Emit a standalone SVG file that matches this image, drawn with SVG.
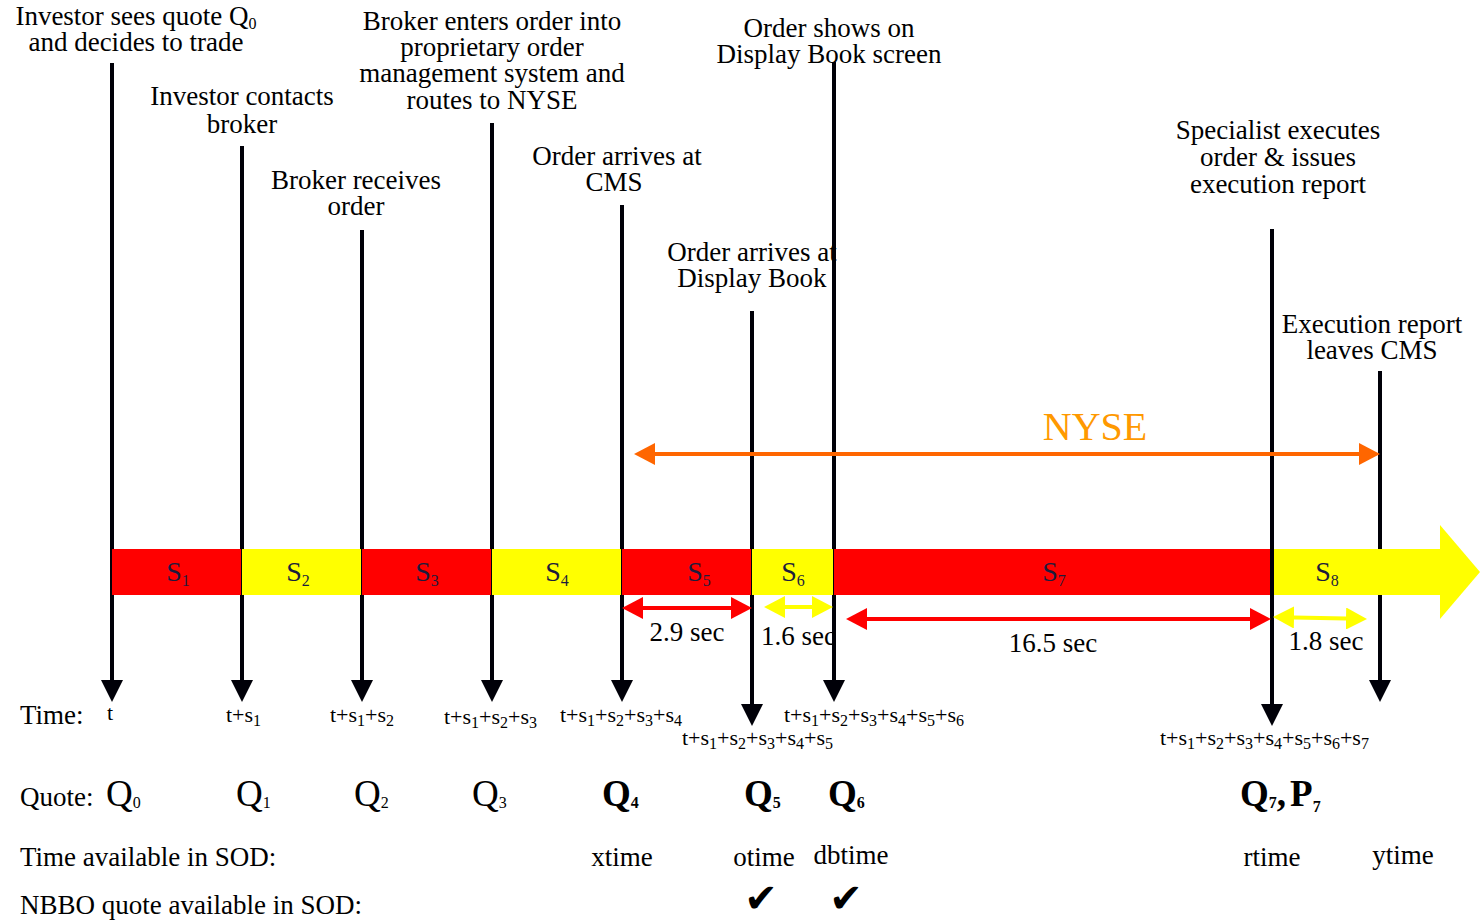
<svg xmlns="http://www.w3.org/2000/svg" width="1480" height="924" viewBox="0 0 1480 924">
<style>
  text { font-family: "Liberation Serif", "Times New Roman", serif; fill: #000; }
  .lbl { font-size: 27px; text-anchor: middle; }
  .seg { font-size: 28px; text-anchor: middle; fill: #1c1c3c; }
  .segsub { font-size: 16px; }
  .tm { font-size: 22px; }
  .sub { font-size: 16px; }
  .row { font-size: 27px; }
  .q { font-size: 37px; }
  .qb { font-size: 37px; font-weight: bold; }
  .qs { font-size: 16px; }
  .dur { font-size: 27px; }
  .chk { font-family: "DejaVu Sans", sans-serif; font-size: 40px; text-anchor: middle; }
  .vline { stroke: #000008; stroke-width: 4; fill: none; marker-end: url(#ah); }
  .red { fill: #ff0000; }
  .yel { fill: #ffff00; }
</style>
<defs>
  <marker id="ah" viewBox="0 0 22 22" refX="0" refY="11" markerWidth="22" markerHeight="22" markerUnits="userSpaceOnUse" orient="auto">
    <path d="M0,0 L22,11 L0,22 Z" fill="#000008"/>
  </marker>
  <marker id="ahr" viewBox="0 0 21 22" refX="0" refY="11" markerWidth="21" markerHeight="22" markerUnits="userSpaceOnUse" orient="auto-start-reverse">
    <path d="M0,0 L21,11 L0,22 Z" fill="#ff0000"/>
  </marker>
  <marker id="ahy" viewBox="0 0 21 22" refX="0" refY="11" markerWidth="21" markerHeight="22" markerUnits="userSpaceOnUse" orient="auto-start-reverse">
    <path d="M0,0 L21,11 L0,22 Z" fill="#ffff00"/>
  </marker>
  <marker id="aho" viewBox="0 0 21 22" refX="0" refY="11" markerWidth="21" markerHeight="22" markerUnits="userSpaceOnUse" orient="auto-start-reverse">
    <path d="M0,0 L21,11 L0,22 Z" fill="#ff6600"/>
  </marker>
</defs>
<rect width="1480" height="924" fill="#ffffff"/>

<!-- Event labels -->
<g id="ev1"><text class="lbl" x="136" y="25">Investor sees quote Q<tspan class="sub" dy="4">0</tspan></text><text class="lbl" x="136" y="51">and decides to trade</text></g>
<g id="ev2"><text class="lbl" x="242" y="105">Investor contacts</text><text class="lbl" x="242" y="133">broker</text></g>
<g id="ev3"><text class="lbl" x="356" y="189">Broker receives</text><text class="lbl" x="356" y="215">order</text></g>
<g id="ev4"><text class="lbl" x="492" y="30">Broker enters order into</text><text class="lbl" x="492" y="56">proprietary order</text><text class="lbl" x="492" y="82">management system and</text><text class="lbl" x="492" y="109">routes to NYSE</text></g>
<g id="ev5"><text class="lbl" x="617" y="165">Order arrives at</text><text class="lbl" x="614" y="191">CMS</text></g>
<g id="ev6"><text class="lbl" x="752" y="261">Order arrives at</text><text class="lbl" x="752" y="287">Display Book</text></g>
<g id="ev7"><text class="lbl" x="829" y="37">Order shows on</text><text class="lbl" x="829" y="63">Display Book screen</text></g>
<g id="ev8"><text class="lbl" x="1278" y="139">Specialist executes</text><text class="lbl" x="1278" y="166">order &amp; issues</text><text class="lbl" x="1278" y="193">execution report</text></g>
<g id="ev9"><text class="lbl" x="1372" y="333">Execution report</text><text class="lbl" x="1372" y="359">leaves CMS</text></g>

<!-- Connectors -->
<g id="connectors">
  <line class="vline" x1="112" y1="63" x2="112" y2="680"/>
  <line class="vline" x1="242" y1="146" x2="242" y2="680"/>
  <line class="vline" x1="362" y1="230" x2="362" y2="680"/>
  <line class="vline" x1="492" y1="123" x2="492" y2="680"/>
  <line class="vline" x1="622" y1="205" x2="622" y2="680"/>
  <line class="vline" x1="752" y1="311" x2="752" y2="704"/>
  <line class="vline" x1="834" y1="62" x2="834" y2="680"/>
  <line class="vline" x1="1272" y1="229" x2="1272" y2="704"/>
  <line class="vline" x1="1380" y1="371" x2="1380" y2="680"/>
  <line x1="655" y1="454" x2="1359" y2="454" stroke="#ff6600" stroke-width="4" marker-start="url(#aho)" marker-end="url(#aho)"/>
</g>

<!-- NYSE label -->
<g id="nyse"><text x="1095" y="440" font-size="40" text-anchor="middle" style="fill:#ff9900">NYSE</text></g>

<!-- Segment bar -->
<g id="bar">
  <rect class="red" x="112" y="549" width="129" height="46"/>
  <rect class="yel" x="242" y="549" width="119" height="46"/>
  <rect class="red" x="362" y="549" width="129" height="46"/>
  <rect class="yel" x="492" y="549" width="129" height="46"/>
  <rect class="red" x="622" y="549" width="129" height="46"/>
  <rect class="yel" x="752" y="549" width="81" height="46"/>
  <rect class="red" x="834" y="549" width="438" height="46"/>
  <rect class="yel" x="1272" y="549" width="170" height="46"/>
  <polygon class="yel" points="1440,525 1480,572 1440,619"/>
  <line x1="1272" y1="549" x2="1272" y2="595" stroke="#000008" stroke-width="4"/>
  <text class="seg" x="178" y="581">S<tspan class="segsub" dy="5">1</tspan></text>
  <text class="seg" x="298" y="581">S<tspan class="segsub" dy="5">2</tspan></text>
  <text class="seg" x="427" y="581">S<tspan class="segsub" dy="5">3</tspan></text>
  <text class="seg" x="557" y="581">S<tspan class="segsub" dy="5">4</tspan></text>
  <text class="seg" x="699" y="581">S<tspan class="segsub" dy="5">5</tspan></text>
  <text class="seg" x="793" y="581">S<tspan class="segsub" dy="5">6</tspan></text>
  <text class="seg" x="1054" y="581">S<tspan class="segsub" dy="5">7</tspan></text>
  <text class="seg" x="1327" y="581">S<tspan class="segsub" dy="5">8</tspan></text>
</g>

<!-- Durations -->
<g id="durations">
  <line x1="643" y1="608" x2="731" y2="608" stroke="#ff0000" stroke-width="4" marker-start="url(#ahr)" marker-end="url(#ahr)"/>
  <text class="dur" x="687" y="641" text-anchor="middle">2.9 sec</text>
  <line x1="785" y1="607" x2="812" y2="607" stroke="#ffff00" stroke-width="4" marker-start="url(#ahy)" marker-end="url(#ahy)"/>
  <text class="dur" x="761" y="645">1.6 sec</text>
  <line x1="867" y1="619" x2="1250" y2="619" stroke="#ff0000" stroke-width="4" marker-start="url(#ahr)" marker-end="url(#ahr)"/>
  <text class="dur" x="1053" y="652" text-anchor="middle">16.5 sec</text>
  <line x1="1294" y1="617.5" x2="1346" y2="618.5" stroke="#ffff00" stroke-width="4" marker-start="url(#ahy)" marker-end="url(#ahy)"/>
  <text class="dur" x="1326" y="650" text-anchor="middle">1.8 sec</text>
</g>

<!-- Time row -->
<g id="timerow">
  <text class="row" x="20" y="724">Time:</text>
  <text class="tm" x="107" y="720">t</text>
  <text class="tm" x="226" y="722">t+s<tspan class="sub" dy="4">1</tspan></text>
  <text class="tm" x="330" y="722">t+s<tspan class="sub" dy="4">1</tspan><tspan dy="-4">+s</tspan><tspan class="sub" dy="4">2</tspan></text>
  <text class="tm" x="444" y="724">t+s<tspan class="sub" dy="4">1</tspan><tspan dy="-4">+s</tspan><tspan class="sub" dy="4">2</tspan><tspan dy="-4">+s</tspan><tspan class="sub" dy="4">3</tspan></text>
  <text class="tm" x="560" y="722">t+s<tspan class="sub" dy="4">1</tspan><tspan dy="-4">+s</tspan><tspan class="sub" dy="4">2</tspan><tspan dy="-4">+s</tspan><tspan class="sub" dy="4">3</tspan><tspan dy="-4">+s</tspan><tspan class="sub" dy="4">4</tspan></text>
  <text class="tm" x="682" y="745">t+s<tspan class="sub" dy="4">1</tspan><tspan dy="-4">+s</tspan><tspan class="sub" dy="4">2</tspan><tspan dy="-4">+s</tspan><tspan class="sub" dy="4">3</tspan><tspan dy="-4">+s</tspan><tspan class="sub" dy="4">4</tspan><tspan dy="-4">+s</tspan><tspan class="sub" dy="4">5</tspan></text>
  <text class="tm" x="784" y="722">t+s<tspan class="sub" dy="4">1</tspan><tspan dy="-4">+s</tspan><tspan class="sub" dy="4">2</tspan><tspan dy="-4">+s</tspan><tspan class="sub" dy="4">3</tspan><tspan dy="-4">+s</tspan><tspan class="sub" dy="4">4</tspan><tspan dy="-4">+s</tspan><tspan class="sub" dy="4">5</tspan><tspan dy="-4">+s</tspan><tspan class="sub" dy="4">6</tspan></text>
  <text class="tm" x="1160" y="745">t+s<tspan class="sub" dy="4">1</tspan><tspan dy="-4">+s</tspan><tspan class="sub" dy="4">2</tspan><tspan dy="-4">+s</tspan><tspan class="sub" dy="4">3</tspan><tspan dy="-4">+s</tspan><tspan class="sub" dy="4">4</tspan><tspan dy="-4">+s</tspan><tspan class="sub" dy="4">5</tspan><tspan dy="-4">+s</tspan><tspan class="sub" dy="4">6</tspan><tspan dy="-4">+s</tspan><tspan class="sub" dy="4">7</tspan></text>
</g>

<!-- Quote row -->
<g id="quoterow">
  <text class="row" x="20" y="806">Quote:</text>
  <text class="q" x="106" y="806">Q<tspan class="qs" dy="2">0</tspan></text>
  <text class="q" x="236" y="806">Q<tspan class="qs" dy="2">1</tspan></text>
  <text class="q" x="354" y="806">Q<tspan class="qs" dy="2">2</tspan></text>
  <text class="q" x="472" y="806">Q<tspan class="qs" dy="2">3</tspan></text>
  <text class="qb" x="602" y="806">Q<tspan class="qs" dy="2">4</tspan></text>
  <text class="qb" x="744" y="806">Q<tspan class="qs" dy="2">5</tspan></text>
  <text class="qb" x="828" y="806">Q<tspan class="qs" dy="2">6</tspan></text>
  <text class="qb" x="1240" y="806">Q<tspan class="qs" dy="2">7</tspan><tspan dy="-2">,</tspan><tspan dx="4">P</tspan><tspan class="qs" dy="6">7</tspan></text>
</g>

<!-- SOD time row -->
<g id="sodrow">
  <text class="row" x="20" y="866">Time available in SOD:</text>
  <text class="row" x="622" y="866" text-anchor="middle">xtime</text>
  <text class="row" x="764" y="866" text-anchor="middle">otime</text>
  <text class="row" x="851" y="864" text-anchor="middle">dbtime</text>
  <text class="row" x="1272" y="866" text-anchor="middle">rtime</text>
  <text class="row" x="1403" y="864" text-anchor="middle">ytime</text>
</g>

<!-- NBBO row -->
<g id="nbborow">
  <text class="row" x="20" y="914">NBBO quote available in SOD:</text>
  <text class="chk" x="761" y="912">✔</text>
  <text class="chk" x="846" y="912">✔</text>
</g>
</svg>
